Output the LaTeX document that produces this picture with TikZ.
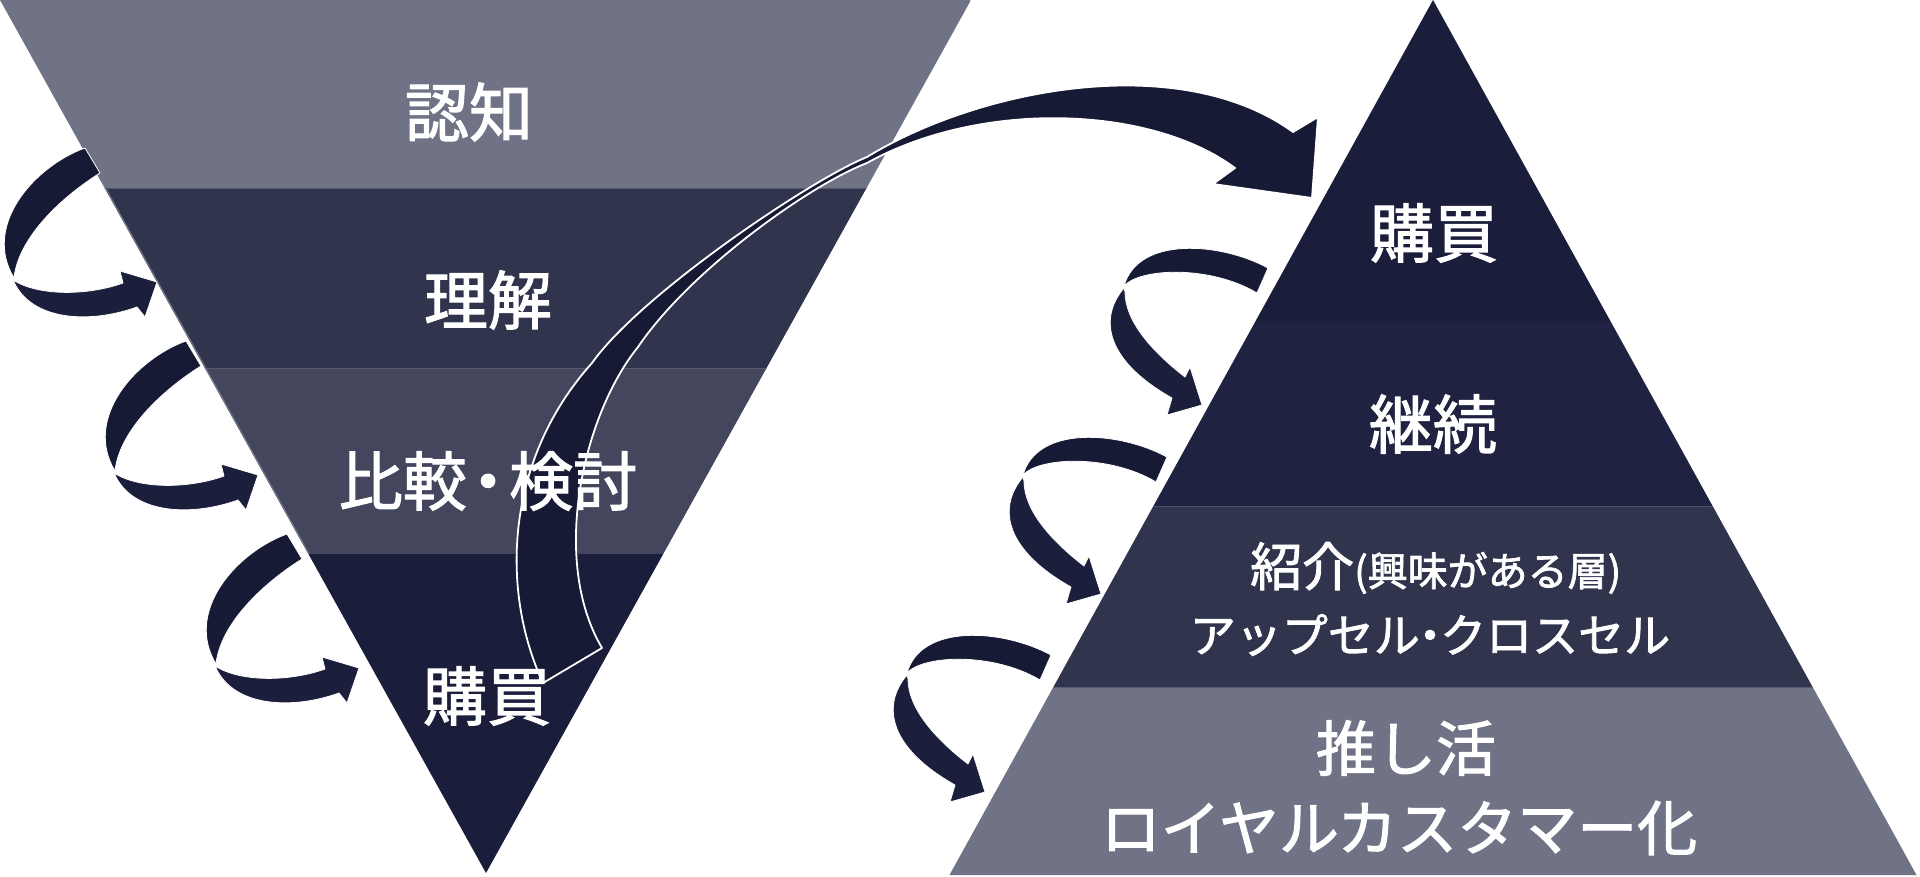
\documentclass[tikz,border=0pt]{standalone}
\usepackage{fontspec}
\setmainfont{Noto Sans CJK JP}[FakeBold=1.8]
\definecolor{cLight}{HTML}{6F7385}
\definecolor{cMid}{HTML}{30344C}
\definecolor{cMidB}{HTML}{43465D}
\definecolor{cDark}{HTML}{1B1E3A}
\definecolor{cDarkB}{HTML}{1F2341}
\definecolor{cArrow}{HTML}{171A34}
\definecolor{cArrowB}{HTML}{1C1F3C}
\definecolor{cSep}{HTML}{55596E}
\tikzset{
  lbl/.style={text=white, inner sep=0pt, anchor=center},
  bigfont/.style={font=\fontsize{64}{70}\selectfont},
  midfont/.style={font=\fontsize{60}{66}\selectfont},
  sepline/.style={draw=cSep, line width=1.2pt},
  bigarrow/.style={fill=cArrow, draw=white, line width=1.8pt, line join=round},
  curlA/.style={fill=cArrow, draw=white, line width=0.8pt, line join=round},
  curlB/.style={fill=cArrowB, draw=white, line width=0.8pt, line join=round},
  lcurl/.pic={
    \path[curlA] (85,148) .. controls (35,166) and (-18,225) .. (14,278)
      .. controls (18,240) and (57,200) .. (100,173) -- cycle;
    \path[curlB] (13,280) .. controls (40,297) and (90,295) .. (123,283)
      -- (120,271) -- (157,282) -- (145,317) -- (137,307)
      .. controls (90,324) and (32,321) .. (14,282) -- cycle;
  },
  rcurl/.pic={
    \path[curlA] (1268,268) .. controls (1220,242) and (1138,236) .. (1124,286)
      .. controls (1140,268) and (1210,265) .. (1257,293) -- cycle;
    \path[curlB] (1124,288) .. controls (1097,320) and (1108,362) .. (1172,398)
      -- (1167,415) -- (1202,405) -- (1190,367) -- (1185,377)
      .. controls (1150,350) and (1125,320) .. (1125,292) -- cycle;
  }
}
\begin{document}
\begin{tikzpicture}[x=1pt,y=-1pt]
\useasboundingbox (0,0) rectangle (1920,877);
\fill[white] (0,0) rectangle (1920,877);

% ---------- left funnel ----------
\begin{scope}
  \clip (0,0) -- (971,0) -- (486,873) -- cycle;
  \fill[cLight] (0,0) rectangle (971,188);
  \fill[cMid] (0,188) rectangle (971,368);
  \fill[cMidB] (0,368) rectangle (971,554);
  \fill[cDark] (0,554) rectangle (971,877);
  \draw[sepline] (0,188.5) -- (971,188.5);
  \draw[sepline] (0,368.5) -- (971,368.5);
  \draw[cLight, line width=2.5pt] (104.7,188) -- (308.4,554);
\end{scope}

% ---------- right pyramid ----------
\begin{scope}
  \clip (1433,0) -- (1916.5,875) -- (949.5,875) -- cycle;
  \fill[cDark] (940,0) rectangle (1920,321);
  \fill[cDarkB] (940,321) rectangle (1920,506);
  \fill[cMid] (940,506) rectangle (1920,687);
  \fill[cLight] (940,687) rectangle (1920,877);
  \draw[draw=cDarkB!80!white, line width=1pt] (940,506.5) -- (1920,506.5);
  \draw[draw=cMid!80!white, line width=1pt] (940,687.5) -- (1920,687.5);
\end{scope}

% ---------- big arrow ----------
\path[bigarrow]
  (543,683) .. controls (500,590) and (505,460) .. (592,363)
  .. controls (640,295) and (810,180) .. (867,157)
  .. controls (980,88) and (1180,50) .. (1293,132)
  -- (1318,117) -- (1312,198) -- (1213,184) -- (1235,168)
  .. controls (1150,105) and (980,100) .. (867,163)
  .. controls (810,185) and (690,270) .. (638,347)
  .. controls (583,415) and (550,560) .. (602,648)
  -- cycle;

% ---------- curled arrows ----------
\pic at (0,0) {lcurl};
\pic at (101,193) {lcurl};
\pic at (202,386) {lcurl};
\pic at (0,0) {rcurl};
\pic at (-101,189) {rcurl};
\pic at (-217,387) {rcurl};

% ---------- labels ----------
\node[lbl, bigfont] (ninchi) at (469,112) {認知};
\node[lbl, bigfont] (rikai) at (488,300) {理解};
\node[lbl, bigfont] (hikaku) at (488,481) {比較\kern-0.17em・\kern-0.17em 検討};
\node[lbl, bigfont] (konyuL) at (487,696) {購買};

\node[lbl, bigfont] (konyuR) at (1434,233) {購買};
\node[lbl, bigfont] (keizoku) at (1433,424) {継続};
\node[lbl, anchor=west] (shokai) at (1250,568) {{\fontsize{52}{58}\selectfont 紹介}{\fontsize{40}{46}\selectfont (興味がある層)}};
\node[lbl, font=\fontsize{46}{52}\selectfont] (upsell) at (1430,635) {アップセル\kern-0.28em・\kern-0.28em クロスセル};
\node[lbl, midfont] (oshi) at (1406,748) {推し活};
\node[lbl, midfont] (loyal) at (1399,828) {ロイヤルカスタマー化};
\end{tikzpicture}
\end{document}
